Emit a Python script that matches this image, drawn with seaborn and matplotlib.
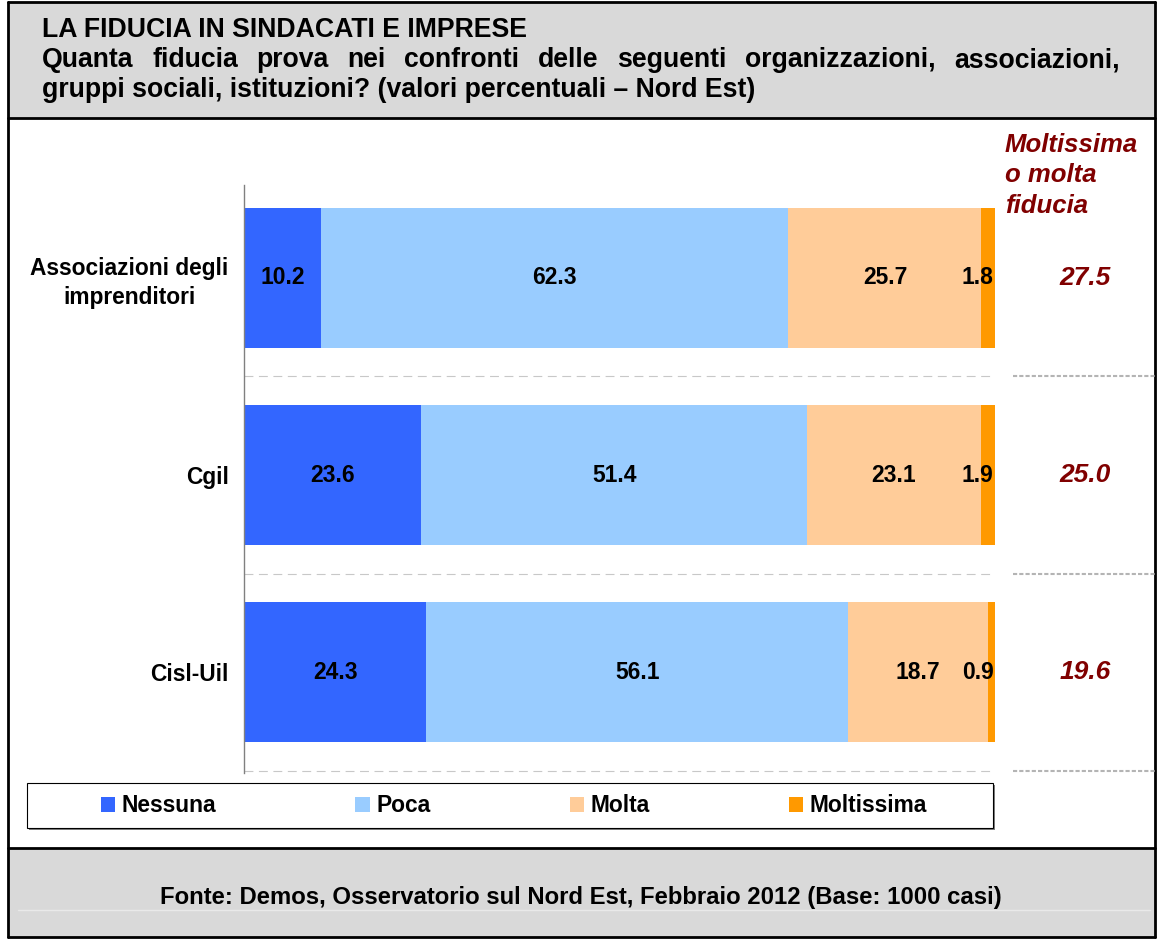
import matplotlib
matplotlib.use("Agg")
import matplotlib.pyplot as plt
import matplotlib.transforms as mtransforms
from matplotlib.lines import Line2D
from matplotlib.patches import Patch, Rectangle
import pandas as pd
import seaborn as sns

# data
categorie = ["Associazioni degli\nimprenditori", "Cgil", "Cisl-Uil"]
nessuna = [10.2, 23.6, 24.3]
poca = [62.3, 51.4, 56.1]
molta = [25.7, 23.1, 18.7]
moltissima = [1.8, 1.9, 0.9]
molta_o_moltissima = [27.5, 25.0, 19.6]
serie = ["Nessuna", "Poca", "Molta", "Moltissima"]
colori = ["#3366FF", "#99CCFF", "#FFCC99", "#FF9900"]

titolo = "LA FIDUCIA IN SINDACATI E IMPRESE"
domanda_1 = "Quanta fiducia prova nei confronti delle seguenti organizzazioni, associazioni,"
domanda_2 = "gruppi sociali, istituzioni? (valori percentuali – Nord Est)"
titolo_destra = "Moltissima\no molta\nfiducia"
fonte = "Fonte: Demos, Osservatorio sul Nord Est, Febbraio 2012 (Base: 1000 casi)"

W, H = 1158, 939
ROSSO = "#800000"


def fx(x):
    return x / W


def fy(y):
    return 1 - y / H


sns.set_theme(style="white")
plt.rcParams["font.family"] = ["Liberation Sans", "DejaVu Sans"]
plt.rcParams["text.color"] = "black"
plt.rcParams["ytick.labelcolor"] = "black"

fig = plt.figure(figsize=(W / 100, H / 100), dpi=100)
fig.patch.set_facecolor("white")

# header and footer boxes
for y0, y1 in [(2, 118), (848, 937)]:
    fig.patches.append(Rectangle((fx(8), fy(y1)), fx(1155) - fx(8), fy(y0) - fy(y1),
                                 transform=fig.transFigure, facecolor="#d9d9d9",
                                 edgecolor="none", zorder=0))
fig.add_artist(Line2D([fx(18), fx(1150)], [fy(910)] * 2, transform=fig.transFigure,
                      color="#e9e9e9", lw=1))

# borders
bordi = [((8, 8), (2, 937)), ((1155, 1155), (2, 937)), ((8, 1155), (2, 2)),
         ((8, 1155), (937, 937)), ((8, 1155), (118, 118)), ((8, 1155), (848, 848))]
for xs, ys in bordi:
    fig.add_artist(Line2D([fx(v) for v in xs], [fy(v) for v in ys],
                          transform=fig.transFigure, color="black", lw=2))

# chart
ax = fig.add_axes([fx(244), fy(773), fx(995) - fx(244), fy(185) - fy(773)])
df = pd.DataFrame({"categoria": categorie, "Nessuna": nessuna, "Poca": poca,
                   "Molta": molta, "Moltissima": moltissima})
cum = df[serie].cumsum(axis=1)
for s, c in reversed(list(zip(serie, colori))):
    sns.barplot(x=cum[s], y=df["categoria"], orient="h", color=c, saturation=1,
                width=0.71, linewidth=0, errorbar=None, ax=ax)

ax.set_xlim(0, 100)
ax.set_ylim(2.51, -0.47)
ax.set_xticks([])
ax.set_xlabel("")
ax.set_ylabel("")
for sp in ["top", "right", "bottom"]:
    ax.spines[sp].set_visible(False)
ax.spines["left"].set_color("#808080")
ax.spines["left"].set_linewidth(1)
ax.tick_params(axis="y", length=0, pad=11, labelsize=16.4, labelcolor="black")
for lab in ax.get_yticklabels():
    lab.set_fontweight("bold")
    lab.set_multialignment("center")
    lab.set_linespacing(1.3)

# values inside the bars
for i in range(len(categorie)):
    for s in serie[:3]:
        v = df.loc[i, s]
        ax.text(cum.loc[i, s] - v / 2, i, f"{v:.1f}", ha="center", va="center",
                fontsize=16.5, fontweight="bold", color="black")
    ax.text(cum.loc[i, "Moltissima"] - 0.2, i, f"{df.loc[i, 'Moltissima']:.1f}",
            ha="right", va="center", fontsize=16.5, fontweight="bold", color="black")

# dashed separators
trans = mtransforms.blended_transform_factory(fig.transFigure, ax.transData)
for k in range(len(categorie)):
    ax.axhline(k + 0.5, xmin=0, xmax=0.993, color="#c8c8c8", lw=0.8, ls=(0, (8, 5)))
    fig.add_artist(Line2D([fx(1013), fx(1155)], [k + 0.5] * 2, transform=trans,
                          color="#b4b4b4", lw=1.5, ls=(0, (2, 1))))

# right column
fig.text(fx(1005), fy(133), titolo_destra, ha="left", va="top", fontsize=18.5,
         fontweight="bold", fontstyle="italic", color=ROSSO, linespacing=1.33)
for k, v in enumerate(molta_o_moltissima):
    ax.text(fx(1085), k, f"{v:.1f}", transform=trans, ha="center", va="center",
            fontsize=19, fontweight="bold", fontstyle="italic", color=ROSSO)

# legend
fig.patches.append(Rectangle((fx(29), fy(830)), fx(995) - fx(29), fy(785) - fy(830),
                             transform=fig.transFigure, facecolor="#808080",
                             edgecolor="none", zorder=1))
fig.patches.append(Rectangle((fx(27), fy(828)), fx(993) - fx(27), fy(783) - fy(828),
                             transform=fig.transFigure, facecolor="white",
                             edgecolor="black", lw=0.8, zorder=2))
handles = [Patch(facecolor=c, edgecolor="none", label=s) for s, c in zip(serie, colori)]
fig.legend(handles=handles, loc="center", bbox_to_anchor=(fx(514), fy(806)), ncol=4,
           frameon=False, handlelength=0.62, handleheight=0.62, handletextpad=0.3,
           columnspacing=6.1, prop={"weight": "bold", "size": 16.4})

# header texts
fig.text(fx(42), fy(37), titolo, ha="left", va="baseline", fontsize=19.2, fontweight="bold")
renderer = fig.canvas.get_renderer()
parole = domanda_1.split(" ")
pezzi = [fig.text(0, fy(67), p, ha="left", va="baseline", fontsize=19.2, fontweight="bold")
         for p in parole]
larghezze = [t.get_window_extent(renderer).width for t in pezzi]
gap = (1120 - 42 - sum(larghezze)) / (len(parole) - 1)
x = 42
for t, w in zip(pezzi, larghezze):
    t.set_x(fx(x))
    x += w + gap
fig.text(fx(42), fy(97), domanda_2, ha="left", va="baseline", fontsize=19.2, fontweight="bold")

# footer
fig.text(fx(581), fy(904), fonte, ha="center", va="baseline", fontsize=17.2, fontweight="bold")

fig.savefig("out.png", dpi=100)
